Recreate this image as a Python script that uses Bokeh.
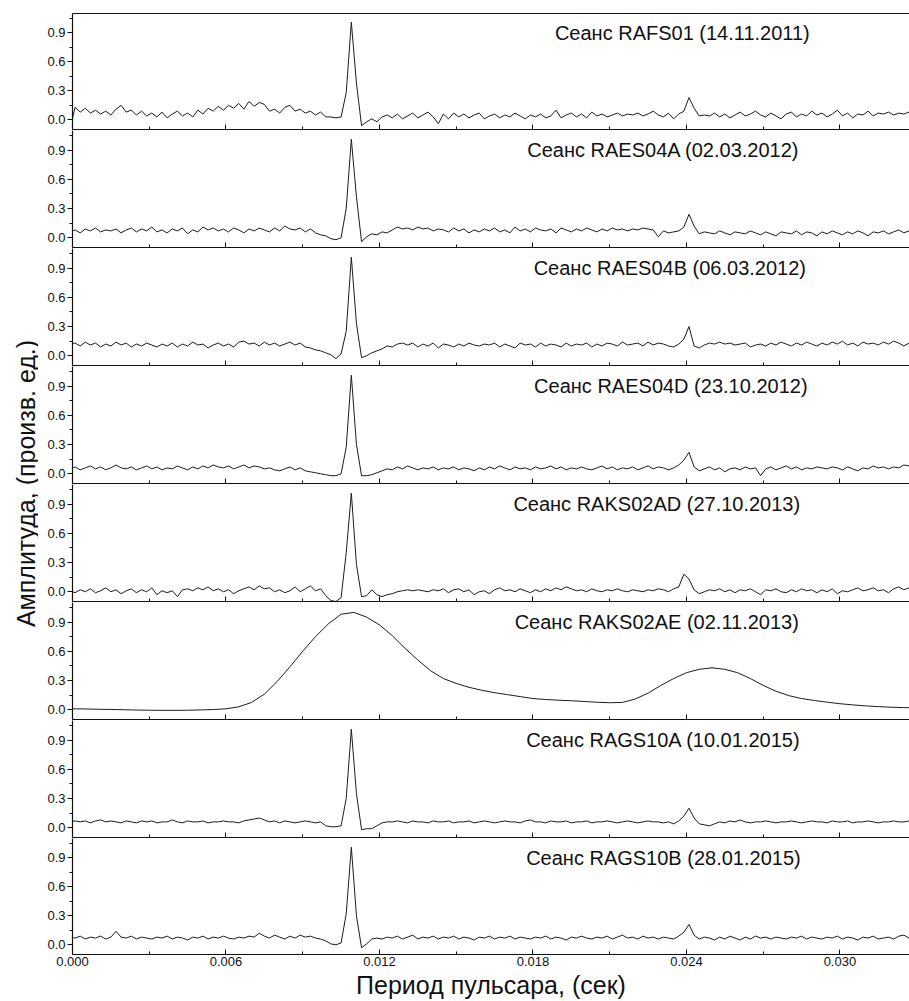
import numpy as np
from bokeh.plotting import figure
from bokeh.layouts import column, row
from bokeh.models import Range1d, FixedTicker, PrintfTickFormatter, LinearAxis, Label
from bokeh.embed import file_html
from bokeh.resources import INLINE

# ---------------- data ----------------
# common sampling grid of the pulsar period (s)
period = np.round(-0.0001 + 0.0002 * np.arange(166), 4)

amp_rafs01 = [
    -0.10, 0.13, 0.08, 0.12, 0.07, 0.10, 0.06, 0.09, 0.05, 0.11,
    0.15, 0.08, 0.10, 0.05, 0.09, 0.04, 0.07, 0.03, 0.08, 0.02,
    0.06, 0.09, 0.04, 0.07, 0.03, 0.10, 0.06, 0.12, 0.09, 0.14,
    0.10, 0.15, 0.12, 0.17, 0.11, 0.19, 0.14, 0.18, 0.16, 0.09,
    0.11, 0.07, 0.13, 0.15, 0.09, 0.11, 0.07, 0.09, 0.05, 0.08,
    0.03, 0.03, 0.02, 0.03, 0.28, 1.01, 0.38, -0.06, -0.02, 0.01,
    -0.02, 0.03, 0.05, 0.02, 0.06, 0.01, 0.04, 0.07, 0.02, 0.05,
    0.08, 0.03, -0.04, 0.06, 0.01, 0.07, 0.03, 0.06, 0.02, 0.05,
    0.07, 0.01, 0.04, 0.06, 0.02, 0.05, 0.03, 0.07, 0.04, 0.01,
    0.05, 0.03, 0.06, 0.02, 0.04, 0.10, 0.02, 0.05, 0.07, 0.03,
    0.06, 0.02, 0.08, 0.04, 0.06, 0.03, 0.05, 0.07, 0.04, 0.06,
    0.05, 0.07, 0.04, 0.06, 0.09, 0.05, 0.03, 0.07, 0.01, 0.06,
    0.09, 0.23, 0.12, 0.04, 0.05, 0.04, 0.07, 0.03, 0.06, 0.02,
    0.05, 0.08, 0.04, 0.06, 0.09, 0.05, 0.03, 0.07, 0.04, 0.01,
    0.06, 0.08, 0.03, 0.06, 0.04, 0.09, 0.05, 0.07, 0.03, 0.06,
    0.10, 0.04, 0.07, 0.02, 0.06, 0.05, 0.09, 0.04, 0.07, 0.06,
    0.08, 0.05, 0.07, 0.06, 0.08, 0.07]

amp_raes04a = [
    0.06, 0.08, 0.05, 0.09, 0.07, 0.10, 0.06, 0.08, 0.07, 0.09,
    0.05, 0.08, 0.10, 0.06, 0.09, 0.07, 0.11, 0.06, 0.08, 0.05,
    0.09, 0.07, 0.10, 0.04, 0.08, 0.06, 0.11, 0.08, 0.10, 0.07,
    0.09, 0.06, 0.10, 0.08, 0.05, 0.09, 0.07, 0.10, 0.08, 0.06,
    0.10, 0.07, 0.12, 0.09, 0.08, 0.10, 0.06, 0.09, 0.05, 0.03,
    0.02, -0.01, -0.02, 0.00, 0.30, 1.01, 0.42, -0.04, 0.01, 0.04,
    0.03, 0.06, 0.05, 0.08, 0.11, 0.09, 0.10, 0.08, 0.11, 0.09,
    0.10, 0.07, 0.09, 0.08, 0.06, 0.10, 0.07, 0.09, 0.05, 0.08,
    0.06, 0.09, 0.07, 0.10, 0.06, 0.08, 0.05, 0.11, 0.07, 0.09,
    0.06, 0.10, 0.08, 0.07, 0.09, 0.05, 0.10, 0.08, 0.06, 0.09,
    0.07, 0.10, 0.08, 0.06, 0.09, 0.07, 0.10, 0.08, 0.09, 0.07,
    0.09, 0.08, 0.10, 0.09, 0.08, 0.01, 0.07, 0.05, 0.06, 0.07,
    0.11, 0.24, 0.12, 0.04, 0.06, 0.05, 0.04, 0.07, 0.05, 0.03,
    0.06, 0.05, 0.04, 0.07, 0.05, 0.03, 0.06, 0.04, 0.02, 0.06,
    0.05, 0.04, 0.07, 0.03, 0.06, 0.05, 0.02, 0.06, 0.04, 0.07,
    0.05, 0.03, 0.06, 0.04, 0.07, 0.05, 0.02, 0.06, 0.05, 0.07,
    0.04, 0.06, 0.08, 0.05, 0.07, 0.06]

amp_raes04b = [
    0.12, 0.13, 0.10, 0.14, 0.11, 0.13, 0.09, 0.12, 0.10, 0.14,
    0.11, 0.13, 0.09, 0.12, 0.10, 0.13, 0.11, 0.09, 0.12, 0.10,
    0.13, 0.09, 0.12, 0.10, 0.14, 0.11, 0.12, 0.08, 0.11, 0.13,
    0.10, 0.12, 0.09, 0.14, 0.15, 0.12, 0.13, 0.10, 0.14, 0.11,
    0.13, 0.10, 0.12, 0.14, 0.11, 0.13, 0.09, 0.08, 0.06, 0.05,
    0.03, 0.01, -0.03, 0.02, 0.25, 1.01, 0.33, -0.02, 0.00, 0.03,
    0.05, 0.07, 0.10, 0.09, 0.12, 0.13, 0.11, 0.13, 0.09, 0.12,
    0.10, 0.13, 0.08, 0.12, 0.11, 0.09, 0.12, 0.10, 0.13, 0.11,
    0.10, 0.12, 0.11, 0.13, 0.09, 0.12, 0.10, 0.08, 0.13, 0.11,
    0.12, 0.09, 0.13, 0.10, 0.12, 0.11, 0.09, 0.13, 0.10, 0.12,
    0.11, 0.13, 0.09, 0.12, 0.10, 0.13, 0.12, 0.10, 0.14, 0.11,
    0.12, 0.13, 0.10, 0.14, 0.11, 0.13, 0.12, 0.10, 0.09, 0.12,
    0.17, 0.30, 0.10, 0.08, 0.11, 0.13, 0.12, 0.14, 0.12, 0.13,
    0.11, 0.12, 0.13, 0.09, 0.11, 0.12, 0.10, 0.13, 0.11, 0.14,
    0.12, 0.10, 0.13, 0.11, 0.14, 0.12, 0.10, 0.13, 0.11, 0.14,
    0.12, 0.15, 0.11, 0.13, 0.10, 0.14, 0.12, 0.13, 0.11, 0.14,
    0.12, 0.15, 0.13, 0.10, 0.13, 0.12]

amp_raes04d = [
    0.05, 0.07, 0.04, 0.06, 0.08, 0.05, 0.07, 0.04, 0.06, 0.09,
    0.06, 0.05, 0.07, 0.04, 0.06, 0.08, 0.05, 0.07, 0.04, 0.06,
    0.05, 0.08, 0.06, 0.04, 0.07, 0.05, 0.08, 0.06, 0.09, 0.07,
    0.06, 0.08, 0.05, 0.07, 0.09, 0.06, 0.08, 0.07, 0.05, 0.06,
    0.04, 0.03, 0.05, 0.07, 0.04, 0.06, 0.03, 0.02, 0.01, 0.00,
    -0.01, -0.02, -0.02, 0.00, 0.27, 1.01, 0.30, -0.02, -0.02, -0.01,
    0.01, 0.03, 0.05, 0.04, 0.07, 0.05, 0.08, 0.06, 0.04, 0.06,
    0.05, 0.07, 0.04, 0.06, 0.05, 0.07, 0.04, 0.06, 0.05, 0.03,
    0.06, 0.04, 0.07, 0.05, 0.08, 0.06, 0.04, 0.07, 0.05, 0.06,
    0.04, 0.07, 0.05, 0.06, 0.08, 0.05, 0.07, 0.04, 0.06, 0.05,
    0.07, 0.05, 0.04, 0.06, 0.08, 0.05, 0.07, 0.04, 0.06, 0.05,
    0.07, 0.04, 0.06, 0.08, 0.05, 0.07, 0.06, 0.04, 0.06, 0.09,
    0.14, 0.22, 0.07, 0.03, 0.05, 0.07, 0.04, 0.06, 0.02, 0.05,
    0.06, 0.04, 0.07, 0.05, 0.06, -0.02, 0.05, 0.07, 0.04, 0.06,
    0.08, 0.05, 0.07, 0.04, 0.06, 0.05, 0.07, 0.06, 0.05, 0.07,
    0.06, 0.04, 0.07, 0.05, 0.03, 0.06, 0.05, 0.08, 0.06, 0.07,
    0.05, 0.07, 0.06, 0.09, 0.08, 0.11]

amp_raks02ad = [
    0.01, -0.01, 0.02, 0.00, 0.03, -0.01, 0.01, 0.04, 0.00, 0.02,
    -0.02, 0.01, 0.03, -0.01, 0.02, 0.00, 0.04, -0.03, 0.01, -0.01,
    0.01, -0.05, 0.02, 0.03, 0.01, 0.04, 0.02, 0.05, 0.01, 0.03,
    0.00, 0.02, -0.02, 0.01, 0.03, 0.05, 0.02, 0.06, 0.03, 0.04,
    0.00, 0.02, -0.01, 0.01, 0.05, 0.00, 0.03, 0.06, 0.01, 0.03,
    -0.04, -0.09, -0.10, -0.06, 0.40, 1.01, 0.28, -0.05, -0.04, 0.02,
    -0.03, -0.05, -0.03, -0.02, 0.00, 0.01, 0.02, 0.01, 0.02, 0.01,
    0.00, 0.02, 0.01, 0.03, -0.01, 0.02, 0.03, 0.00, 0.02, -0.03,
    0.00, 0.01, -0.02, 0.02, 0.04, 0.01, 0.02, 0.00, 0.03, 0.01,
    -0.01, 0.02, 0.00, 0.03, 0.01, 0.04, 0.02, 0.05, 0.03, 0.01,
    0.02, 0.00, 0.03, 0.01, 0.00, 0.02, 0.01, 0.03, 0.01, 0.00,
    0.02, 0.01, 0.00, 0.02, 0.01, 0.03, 0.02, 0.00, 0.03, 0.05,
    0.18, 0.13, 0.02, -0.02, 0.00, 0.02, 0.01, 0.03, 0.00, 0.02,
    -0.01, 0.02, 0.01, 0.03, 0.00, -0.03, 0.02, 0.01, 0.03, 0.00,
    -0.01, 0.02, 0.00, 0.03, 0.01, 0.02, -0.01, 0.02, 0.00, 0.03,
    -0.02, 0.01, 0.00, 0.02, 0.04, 0.01, 0.02, 0.04, 0.01, 0.02,
    -0.01, 0.03, 0.05, 0.02, 0.04, 0.00]

# smooth profile of session RAKS02AE, sampled every 0.5 ms
period_raks02ae = np.round(0.0005 * np.arange(67), 4)
amp_raks02ae = [
    0.010, 0.008, 0.005, 0.003, 0.000, -0.003, -0.005, -0.006, -0.006, -0.005,
    -0.002, 0.002, 0.010, 0.030, 0.075, 0.160, 0.290, 0.440, 0.600, 0.750,
    0.880, 0.980, 0.998, 0.950, 0.870, 0.760, 0.630, 0.510, 0.400, 0.320,
    0.270, 0.230, 0.200, 0.175, 0.155, 0.135, 0.115, 0.105, 0.098, 0.092,
    0.085, 0.077, 0.072, 0.075, 0.110, 0.170, 0.250, 0.320, 0.380, 0.415,
    0.430, 0.415, 0.380, 0.320, 0.250, 0.190, 0.145, 0.115, 0.095, 0.078,
    0.062, 0.050, 0.040, 0.032, 0.026, 0.022, 0.019]

amp_rags10a = [
    0.06, 0.07, 0.06, 0.07, 0.05, 0.07, 0.08, 0.06, 0.07, 0.06,
    0.05, 0.07, 0.06, 0.05, 0.07, 0.06, 0.07, 0.05, 0.06, 0.06,
    0.08, 0.06, 0.05, 0.07, 0.06, 0.06, 0.07, 0.05, 0.06, 0.06,
    0.07, 0.06, 0.06, 0.05, 0.07, 0.08, 0.09, 0.10, 0.08, 0.06,
    0.07, 0.05, 0.07, 0.06, 0.05, 0.06, 0.07, 0.06, 0.05, 0.06,
    0.02, 0.01, 0.01, 0.02, 0.30, 1.01, 0.35, -0.02, -0.01, -0.01,
    0.02, 0.05, 0.06, 0.06, 0.07, 0.06, 0.05, 0.07, 0.06, 0.06,
    0.05, 0.07, 0.06, 0.06, 0.07, 0.05, 0.06, 0.06, 0.07, 0.05,
    0.06, 0.07, 0.06, 0.05, 0.06, 0.07, 0.06, 0.06, 0.05, 0.07,
    0.08, 0.06, 0.06, 0.05, 0.07, 0.06, 0.06, 0.07, 0.05, 0.06,
    0.06, 0.07, 0.05, 0.06, 0.06, 0.07, 0.06, 0.05, 0.06, 0.07,
    0.06, 0.05, 0.06, 0.07, 0.06, 0.06, 0.05, 0.06, 0.04, 0.07,
    0.12, 0.20, 0.10, 0.04, 0.03, 0.02, 0.04, 0.06, 0.05, 0.07,
    0.06, 0.08, 0.06, 0.05, 0.06, 0.06, 0.07, 0.06, 0.05, 0.06,
    0.06, 0.07, 0.06, 0.05, 0.06, 0.07, 0.06, 0.06, 0.05, 0.07,
    0.06, 0.06, 0.07, 0.05, 0.06, 0.06, 0.07, 0.06, 0.05, 0.06,
    0.06, 0.07, 0.06, 0.06, 0.07, 0.08]

amp_rags10b = [
    0.08, 0.07, 0.09, 0.06, 0.08, 0.07, 0.09, 0.06, 0.08, 0.14,
    0.08, 0.07, 0.09, 0.06, 0.08, 0.07, 0.06, 0.08, 0.07, 0.09,
    0.06, 0.08, 0.07, 0.05, 0.08, 0.07, 0.09, 0.06, 0.08, 0.07,
    0.09, 0.07, 0.06, 0.08, 0.07, 0.09, 0.08, 0.12, 0.09, 0.07,
    0.10, 0.08, 0.06, 0.09, 0.07, 0.10, 0.08, 0.09, 0.07, 0.06,
    0.04, 0.01, 0.00, 0.02, 0.32, 1.01, 0.30, -0.03, 0.01, 0.06,
    0.07, 0.06, 0.08, 0.07, 0.09, 0.06, 0.08, 0.10, 0.06, 0.08,
    0.07, 0.09, 0.06, 0.08, 0.07, 0.09, 0.06, 0.08, 0.07, 0.05,
    0.08, 0.07, 0.09, 0.06, 0.08, 0.07, 0.09, 0.06, 0.08, 0.07,
    0.06, 0.08, 0.07, 0.09, 0.06, 0.08, 0.07, 0.05, 0.08, 0.07,
    0.09, 0.07, 0.06, 0.08, 0.07, 0.09, 0.06, 0.08, 0.10, 0.07,
    0.08, 0.06, 0.09, 0.07, 0.08, 0.06, 0.08, 0.07, 0.06, 0.09,
    0.13, 0.21, 0.10, 0.06, 0.08, 0.07, 0.05, 0.08, 0.06, 0.09,
    0.07, 0.05, 0.08, 0.06, 0.09, 0.07, 0.08, 0.06, 0.08, 0.07,
    0.06, 0.08, 0.07, 0.09, 0.06, 0.08, 0.07, 0.06, 0.08, 0.07,
    0.09, 0.06, 0.08, 0.07, 0.05, 0.08, 0.07, 0.09, 0.06, 0.07,
    0.08, 0.06, 0.09, 0.10, 0.07, 0.09]

session_titles = [
    "Сеанс RAFS01 (14.11.2011)",
    "Сеанс RAES04A (02.03.2012)",
    "Сеанс RAES04B (06.03.2012)",
    "Сеанс RAES04D (23.10.2012)",
    "Сеанс RAKS02AD (27.10.2013)",
    "Сеанс RAKS02AE (02.11.2013)",
    "Сеанс RAGS10A (10.01.2015)",
    "Сеанс RAGS10B (28.01.2015)",
]

x_major_ticks = [0.0, 0.006, 0.012, 0.018, 0.024, 0.030]
x_minor_ticks = [0.003, 0.009, 0.015, 0.021, 0.027]
y_major_ticks = [0.0, 0.3, 0.6, 0.9]
y_minor_ticks = [0.15, 0.45, 0.75, 1.05]

x_label = "Период пульсара, (сек)"
y_label = "Амплитуда, (произв. ед.)"

# ---------------- layout / style ----------------
FONT = "Liberation Sans"
INK = "#111111"
LABEL_W = 38
FIG_W = 871
LEFT_BORDER = 34
X_END = 0.03272
# frame heights of the eight panels (px), with extra borders on first / last
frame_h = [116, 117, 117, 117, 117, 117, 117, 116]
TOP_PAD = 13
BOTTOM_PAD = 50

series = [
    (period, amp_rafs01),
    (period, amp_raes04a),
    (period, amp_raes04b),
    (period, amp_raes04d),
    (period, amp_raks02ad),
    (period_raks02ae, amp_raks02ae),
    (period, amp_rags10a),
    (period, amp_rags10b),
]
# horizontal centre of each session title (data units)
title_x = [0.02384, 0.02310, 0.02335, 0.02339, 0.02284, 0.02284, 0.02310, 0.02310]


def style_tick_lines(ax):
    ax.major_tick_line_color = INK
    ax.minor_tick_line_color = INK
    ax.major_label_standoff = 0


n = len(series)
figs = []
for i, (xs, ys) in enumerate(series):
    first = i == 0
    last = i == n - 1
    top = TOP_PAD if first else 0
    bottom = BOTTOM_PAD if last else 1
    p = figure(width=FIG_W, height=frame_h[i] + top + bottom,
               x_range=Range1d(0, X_END), y_range=Range1d(-0.1, 1.1),
               output_backend="svg", toolbar_location=None,
               x_axis_location=None, y_axis_location=None,
               min_border_left=LEFT_BORDER, min_border_right=0,
               min_border_top=top, min_border_bottom=bottom)
    p.grid.visible = False
    p.outline_line_color = None
    p.background_fill_color = "white"
    p.border_fill_color = "white"

    p.line(xs, ys, line_color="#1c1c1c", line_width=1)

    yax = LinearAxis(ticker=FixedTicker(ticks=y_major_ticks, minor_ticks=y_minor_ticks),
                     formatter=PrintfTickFormatter(format="%.1f"))
    style_tick_lines(yax)
    yax.axis_line_color = INK
    yax.axis_line_width = 1.2
    yax.major_tick_in = 0
    yax.major_tick_out = 5
    yax.minor_tick_in = 0
    yax.minor_tick_out = 3
    yax.major_label_standoff = 2
    yax.major_label_text_font = FONT
    yax.major_label_text_font_size = "13px"
    yax.major_label_text_color = INK
    p.add_layout(yax, "left")

    if last:
        xax = LinearAxis(ticker=FixedTicker(ticks=x_major_ticks, minor_ticks=x_minor_ticks),
                         formatter=PrintfTickFormatter(format="%.3f"))
        style_tick_lines(xax)
        xax.axis_line_color = INK
        xax.axis_line_width = 1.2
        xax.major_tick_in = 5
        xax.major_tick_out = 0
        xax.minor_tick_in = 3
        xax.minor_tick_out = 0
        xax.major_label_standoff = 2
        xax.major_label_text_font = FONT
        xax.major_label_text_font_size = "13px"
        xax.major_label_text_color = INK
        xax.axis_label = x_label
        xax.axis_label_standoff = 2
        xax.axis_label_text_font = FONT
        xax.axis_label_text_font_size = "25px"
        xax.axis_label_text_font_style = "normal"
        xax.axis_label_text_color = INK
        p.add_layout(xax, "below")
    else:
        # panel separator: axis line with long (major-position) inward ticks, no labels
        xax = LinearAxis(ticker=FixedTicker(ticks=[], minor_ticks=x_major_ticks))
        style_tick_lines(xax)
        xax.axis_line_color = INK
        xax.axis_line_width = 1.2
        xax.major_tick_in = 0
        xax.major_tick_out = 0
        xax.minor_tick_in = 5
        xax.minor_tick_out = 0
        p.add_layout(xax, "below")
        # short inward ticks at the minor positions
        xax2 = LinearAxis(ticker=FixedTicker(ticks=[], minor_ticks=x_minor_ticks))
        style_tick_lines(xax2)
        xax2.axis_line_color = None
        xax2.major_tick_in = 0
        xax2.major_tick_out = 0
        xax2.minor_tick_in = 3
        xax2.minor_tick_out = 0
        p.add_layout(xax2, "below")

    if first:
        tax = LinearAxis(ticker=FixedTicker(ticks=[], minor_ticks=[]))
        style_tick_lines(tax)
        tax.axis_line_color = INK
        tax.axis_line_width = 1.2
        tax.major_tick_in = 0
        tax.major_tick_out = 0
        tax.minor_tick_in = 0
        tax.minor_tick_out = 0
        p.add_layout(tax, "above")

    p.add_layout(Label(x=title_x[i], y=0.9, text=session_titles[i],
                       text_align="center", text_baseline="middle",
                       text_font=FONT, text_font_size="20px", text_color=INK))
    figs.append(p)

total_h = sum(f.height for f in figs)
lab = figure(width=LABEL_W, height=total_h, x_range=Range1d(0, 1), y_range=Range1d(0, 1),
             output_backend="svg", toolbar_location=None,
             x_axis_location=None, y_axis_location=None, min_border=0)
lab.grid.visible = False
lab.outline_line_color = None
lab.border_fill_color = "white"
lab.background_fill_color = "white"
panel_mid = TOP_PAD + sum(frame_h) / 2.0 + 3
lab.add_layout(Label(x=25.0 / LABEL_W, y=1 - panel_mid / total_h, text=y_label, angle=np.pi / 2,
                     text_align="center", text_baseline="middle",
                     text_font=FONT, text_font_size="25px", text_color=INK))

layout = row(lab, column(*figs))
open("out.html", "w").write(file_html(layout, INLINE))
